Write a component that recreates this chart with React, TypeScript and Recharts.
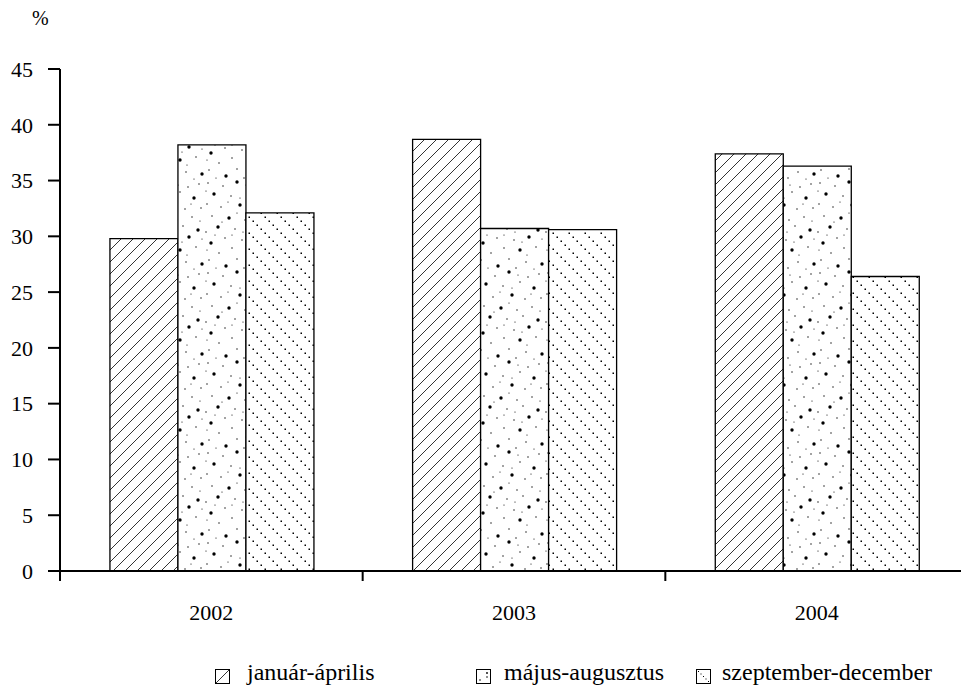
import React from "react";
import { BarChart, Bar, XAxis, YAxis } from "recharts";

const categories = ["2002", "2003", "2004"];
const januarApr = [29.8, 38.7, 37.4];
const majusAug = [38.2, 30.7, 36.3];
const szeptDec = [32.1, 30.6, 26.4];
const yTicks = [0, 5, 10, 15, 20, 25, 30, 35, 40, 45];
const seriesNames = ["január-április", "május-augusztus", "szeptember-december"];

const data = categories.map((c, i) => ({
  year: c,
  jan: januarApr[i],
  maj: majusAug[i],
  szept: szeptDec[i],
}));

const FONT = "Liberation Serif, Times New Roman, serif";
const CHART_W = 1000;
const CHART_H = 687;
const M_LEFT = 0;
const M_RIGHT = 32;
const Y_AXIS_W = 60;
const PLOT_W = CHART_W - M_LEFT - M_RIGHT - Y_AXIS_W;
const BAND = PLOT_W / categories.length;

const XTick = (props: any) => {
  const { x, y, payload } = props;
  return (
    <g>
      <line x1={x - BAND / 2} y1={y} x2={x - BAND / 2} y2={y + 10} stroke="#000" strokeWidth={2} />
      <text x={x} y={y + 49} textAnchor="middle" fontFamily={FONT} fontSize={22} fill="#000">
        {payload.value}
      </text>
    </g>
  );
};

const dots: [number, number, number][] = [
  [4, 3, 0.7], [19, 6, 0.7], [33, 2, 1.7], [52, 7, 0.7], [63, 4, 0.7], [42, 5, 0.6],
  [10, 14, 1.7], [27, 16, 0.7], [44, 12, 0.7], [58, 18, 1.7], [36, 18, 0.6], [2, 11, 0.6],
  [3, 24, 0.7], [17, 27, 0.7], [36, 25, 1.7], [49, 29, 0.7], [65, 28, 0.7], [24, 22, 0.6],
  [8, 36, 0.7], [25, 38, 1.7], [41, 40, 0.7], [56, 37, 0.7], [33, 33, 0.6], [64, 41, 0.6],
  [14, 47, 1.7], [31, 49, 0.7], [47, 46, 0.7], [62, 50, 1.7], [2, 52, 0.7], [39, 52, 0.6],
  [21, 58, 0.7], [38, 60, 0.7], [53, 57, 1.7], [7, 63, 1.7], [28, 55, 0.6], [66, 59, 0.6],
  [28, 68, 0.7], [44, 70, 1.7], [60, 67, 0.7], [15, 73, 0.7], [51, 75, 0.6], [3, 70, 0.6],
  [5, 80, 0.7], [33, 79, 0.7], [50, 82, 0.7], [66, 84, 1.7], [22, 86, 1.7], [40, 88, 0.7],
  [12, 88, 0.6], [58, 89, 0.6], [46, 62, 0.6], [18, 42, 0.6], [55, 24, 0.6], [11, 55, 0.6],
];

const Icon = ({ kind }: { kind: number }) => (
  <svg width={15} height={15} style={{ display: "block" }}>
    <rect x={0.5} y={0.5} width={14} height={14} fill="#fff" stroke="#000" strokeWidth={1} />
    {kind === 0 && <line x1={1} y1={14} x2={14} y2={1} stroke="#000" strokeWidth={0.8} />}
    {kind === 1 && (
      <g fill="#000">
        <circle cx={4} cy={11} r={0.8} />
        <circle cx={11} cy={4} r={0.9} />
        <circle cx={11} cy={8} r={0.8} />
      </g>
    )}
    {kind === 2 && (
      <g fill="#000">
        <rect x={2} y={2} width={1} height={1} />
        <rect x={4.5} y={4.5} width={1} height={1} />
        <rect x={7} y={7} width={1} height={1} />
        <rect x={9.5} y={9.5} width={1} height={1} />
        <rect x={12} y={12} width={1} height={1} />
      </g>
    )}
  </svg>
);

const legendPos = [
  { icon: 215, text: 247 },
  { icon: 476, text: 504 },
  { icon: 696, text: 722 },
];

export default function App() {
  return (
    <div
      style={{
        position: "absolute",
        left: 0,
        top: 0,
        width: 961,
        height: 687,
        overflow: "hidden",
        background: "#fff",
        fontFamily: FONT,
      }}
    >
      <div style={{ position: "absolute", left: 32, top: 7, fontSize: 20, color: "#000" }}>%</div>
      <BarChart
        width={CHART_W}
        height={CHART_H}
        data={data}
        margin={{ top: 69, right: M_RIGHT, left: M_LEFT, bottom: 56 }}
        barCategoryGap="16.5%"
        barGap={0}
      >
        <defs>
          <pattern id="patJan" patternUnits="userSpaceOnUse" width={12} height={12}>
            <rect width={12} height={12} fill="#fff" />
            <path d="M0,12 L12,0 M-3,3 L3,-3 M9,15 L15,9" stroke="#000" strokeWidth={0.8} />
          </pattern>
          <pattern id="patMaj" patternUnits="userSpaceOnUse" width={68} height={90}>
            <rect width={68} height={90} fill="#fff" />
            {dots.map(([cx, cy, r], i) => (
              <circle key={i} cx={cx} cy={cy} r={r} fill="#000" />
            ))}
          </pattern>
          <pattern id="patSzept" patternUnits="userSpaceOnUse" width={16} height={16}>
            <rect width={16} height={16} fill="#fff" />
            {[0, 4, 8, 12].map((d) => (
              <rect key={d} x={d + 0.5} y={d + 0.5} width={1.5} height={1.5} fill="#000" />
            ))}
          </pattern>
        </defs>
        <XAxis
          dataKey="year"
          height={60}
          tickLine={false}
          tickSize={0}
          tickMargin={0}
          axisLine={{ stroke: "#000", strokeWidth: 2 }}
          tick={<XTick />}
          interval={0}
        />
        <YAxis
          width={Y_AXIS_W}
          domain={[0, 45]}
          ticks={yTicks}
          interval={0}
          tickSize={12}
          tickMargin={15}
          axisLine={{ stroke: "#000", strokeWidth: 2 }}
          tickLine={{ stroke: "#000", strokeWidth: 2 }}
          tick={{ fill: "#000", fontSize: 22, fontFamily: FONT }}
        />
        <Bar dataKey="jan" name={seriesNames[0]} fill="url(#patJan)" stroke="#000" strokeWidth={1.3} isAnimationActive={false} />
        <Bar dataKey="maj" name={seriesNames[1]} fill="url(#patMaj)" stroke="#000" strokeWidth={1.3} isAnimationActive={false} />
        <Bar dataKey="szept" name={seriesNames[2]} fill="url(#patSzept)" stroke="#000" strokeWidth={1.3} isAnimationActive={false} />
      </BarChart>
      {seriesNames.map((n, i) => (
        <React.Fragment key={n}>
          <div style={{ position: "absolute", left: legendPos[i].icon, top: 669 }}>
            <Icon kind={i} />
          </div>
          <div
            style={{
              position: "absolute",
              left: legendPos[i].text,
              top: 659,
              fontSize: 24,
              lineHeight: "26px",
              color: "#000",
              whiteSpace: "nowrap",
            }}
          >
            {n}
          </div>
        </React.Fragment>
      ))}
    </div>
  );
}
